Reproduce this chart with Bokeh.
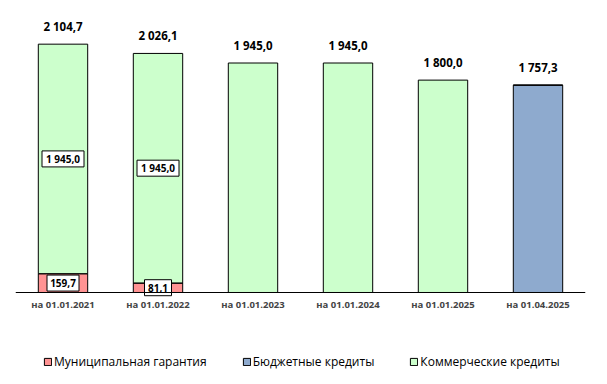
from bokeh.plotting import figure
from bokeh.models import ColumnDataSource, LabelSet, Legend, LegendItem
from bokeh.core.properties import value
from bokeh.embed import file_html
from bokeh.resources import INLINE

categories = ["на 01.01.2021", "на 01.01.2022", "на 01.01.2023",
              "на 01.01.2024", "на 01.01.2025", "на 01.04.2025"]
municipal = [159.7, 81.1, 0.0, 0.0, 0.0, 0.0]
budget = [0.0, 0.0, 0.0, 0.0, 0.0, 1757.3]
commercial = [1945.0, 1945.0, 1945.0, 1945.0, 1800.0, 0.0]

series_names = ["Муниципальная гарантия", "Бюджетные кредиты", "Коммерческие кредиты"]
colors = ["#FF9393", "#8EAACE", "#CCFFCC"]


def fmt(v):
    return f"{v:,.1f}".replace(",", " ").replace(".", ",")


totals = [m + b + c for m, b, c in zip(municipal, budget, commercial)]

src = ColumnDataSource(dict(cat=categories, municipal=municipal, budget=budget,
                            commercial=commercial, total=totals,
                            total_lbl=[fmt(t) for t in totals]))

FONT = "Open Sans"

p = figure(x_range=categories, y_range=(-703.5, 2390), width=600, height=380,
           output_backend="svg", toolbar_location=None,
           min_border_left=15, min_border_right=15, min_border_top=10, min_border_bottom=5)

rs = p.vbar_stack(["municipal", "budget", "commercial"], x="cat", width=0.52, source=src,
                  color=colors, line_color="black", line_width=1)
for r, c in zip(rs, colors):
    r.glyph.fill_color = c
    r.glyph.line_color = "black"

# total labels
p.add_layout(LabelSet(x="cat", y="total", text="total_lbl", source=src,
                      text_align="center", text_baseline="bottom", y_offset=10,
                      text_font=value(FONT), text_font_style="bold", text_font_size="11.5px",
                      text_color="black"))

# boxed labels for stacked bars
bx, by, bt, bw = [], [], [], []
for cat, m, c in zip(categories, municipal, commercial):
    if m > 0 and c > 0:
        for yv, v in ((m / 2, m), (m + c / 2, c)):
            s = fmt(v)
            bx.append(cat)
            by.append(yv)
            bt.append(s)
            bw.append(len(s) * 5 + 7)
box_src = ColumnDataSource(dict(x=bx, y=by, t=bt, w=bw))
p.rect(x="x", y="y", width="w", height=16, width_units="screen", height_units="screen",
       source=box_src, fill_color="white", line_color="black", line_width=1)
p.add_layout(LabelSet(x="x", y="y", text="t", source=box_src,
                      text_align="center", text_baseline="middle",
                      text_font=value(FONT), text_font_style="bold", text_font_size="10px",
                      text_color="black"))

p.xgrid.visible = False
p.ygrid.visible = False
p.yaxis.visible = False
p.outline_line_color = None
p.xaxis.fixed_location = 0
p.xaxis.axis_line_color = "black"
p.xaxis.major_tick_line_color = None
p.xaxis.minor_tick_line_color = None
p.xaxis.major_tick_out = 0
p.xaxis.major_tick_in = 0
p.xaxis.major_label_text_font = FONT
p.xaxis.major_label_text_font_style = "bold"
p.xaxis.major_label_text_font_size = "9.5px"
p.xaxis.major_label_standoff = 6
p.x_range.range_padding = 0.0

legend = Legend(items=[LegendItem(label=n, renderers=[r]) for n, r in zip(series_names, rs)],
                orientation="horizontal", location=(28, 5),
                glyph_width=9, glyph_height=9, label_standoff=2, spacing=35,
                label_text_font=FONT, label_text_font_size="12px", label_text_color="black",
                border_line_color=None, background_fill_alpha=0,
                margin=0, padding=4, label_height=12)
p.add_layout(legend, "center")

open("out.html", "w").write(file_html(p, INLINE))
